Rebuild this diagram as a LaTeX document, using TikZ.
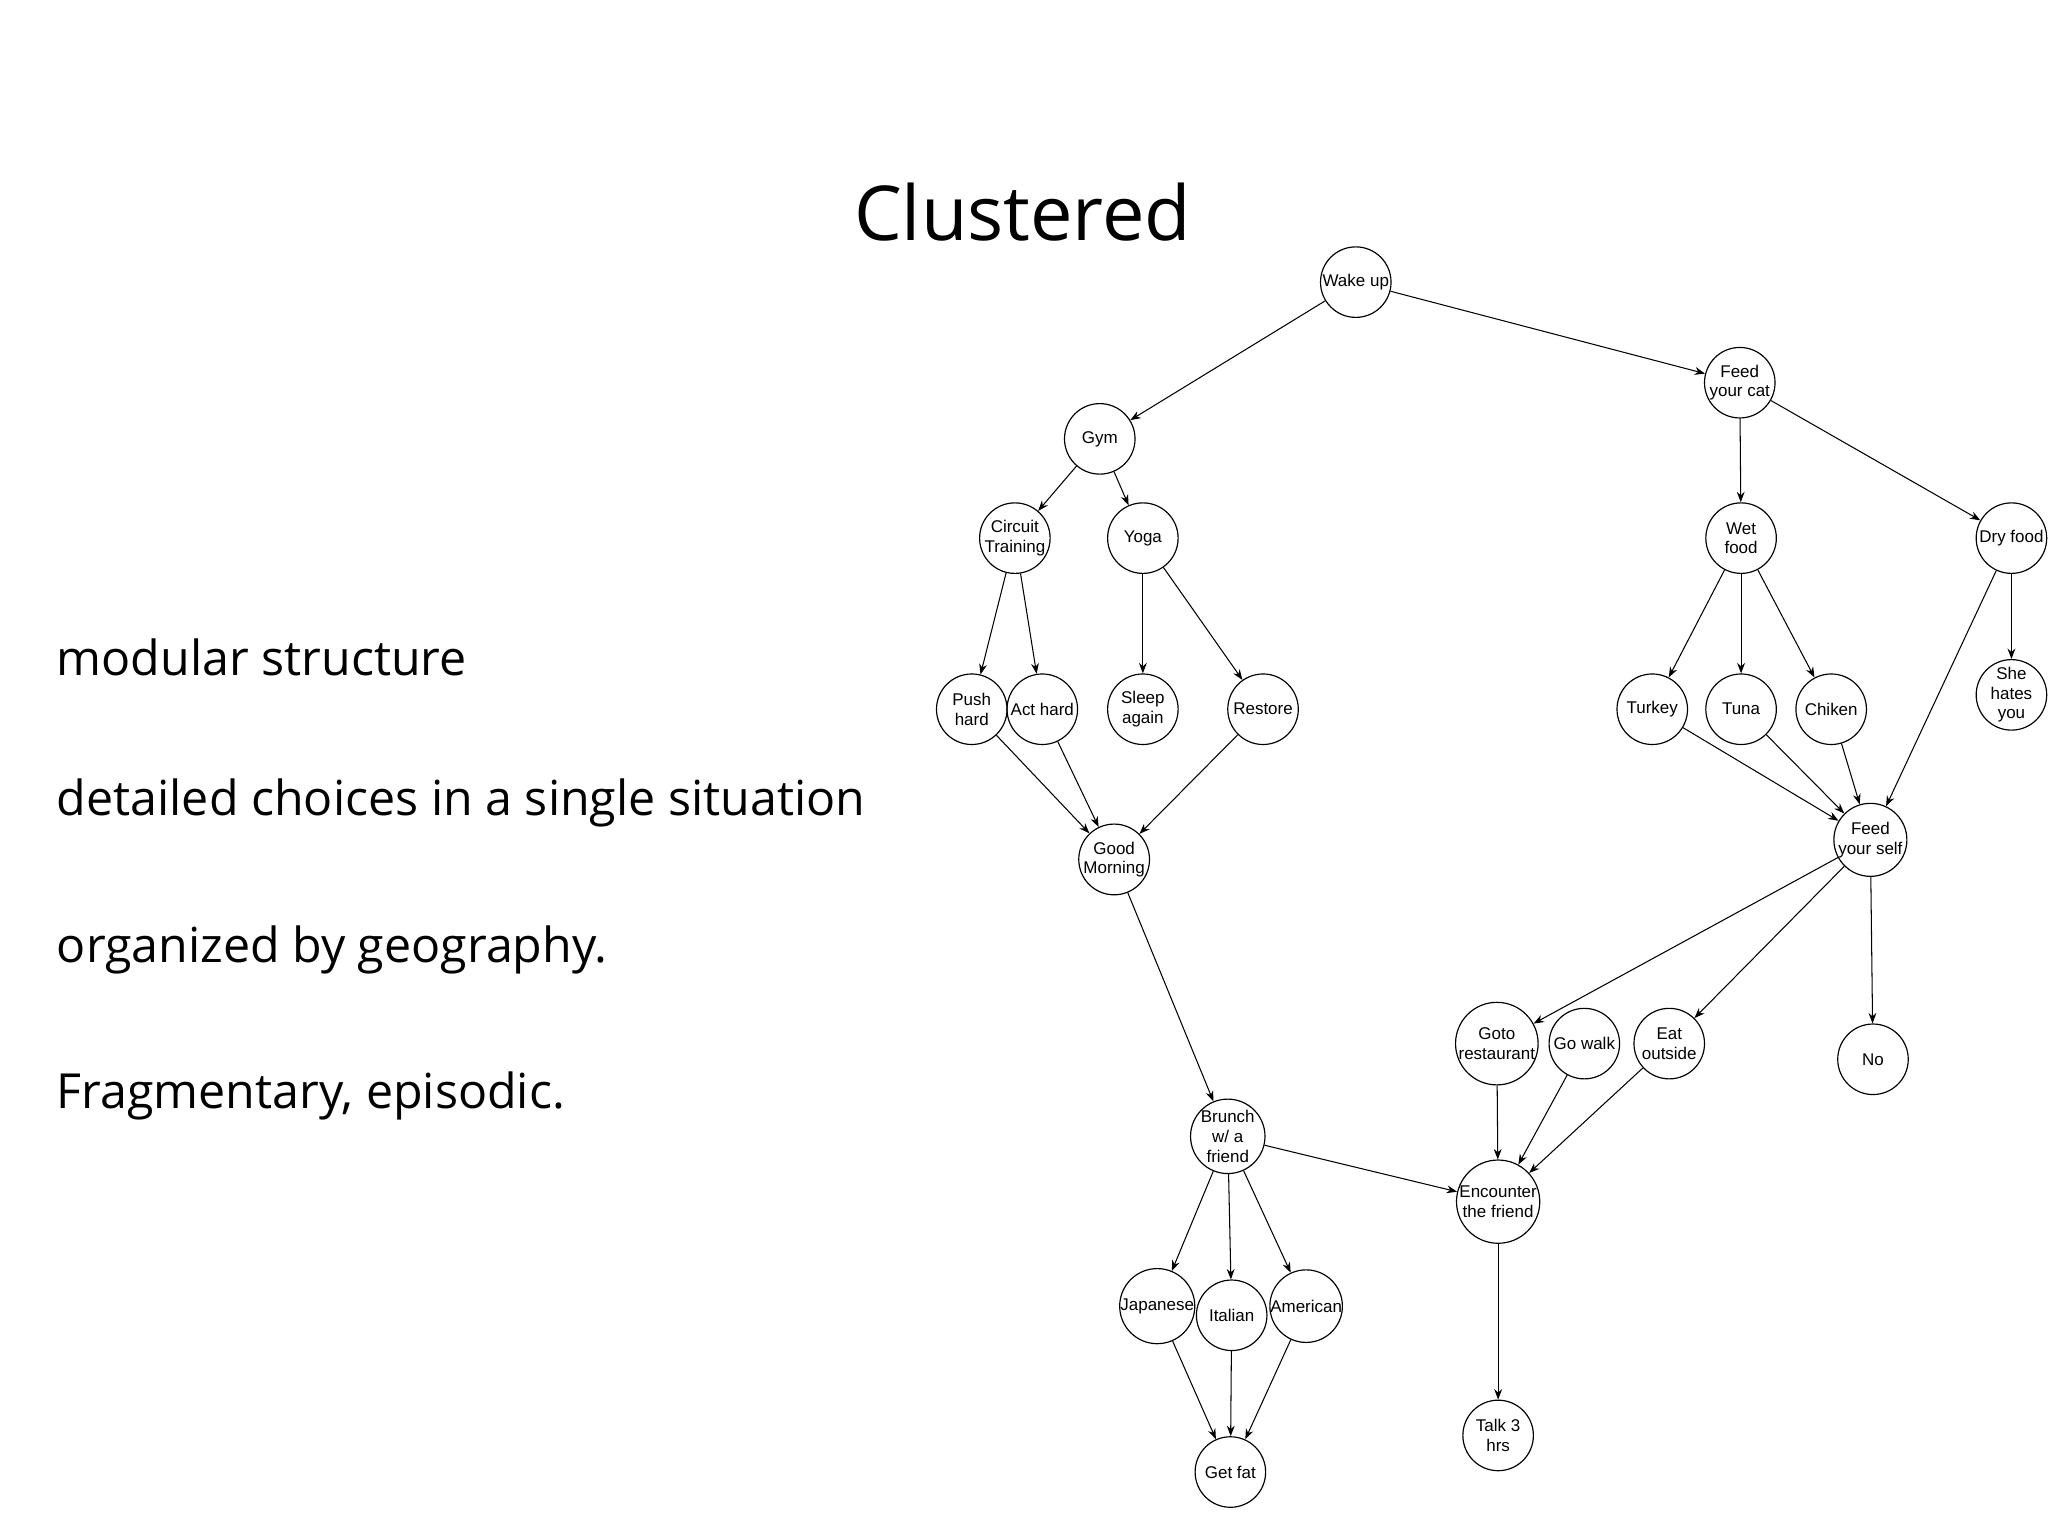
\documentclass[tikz,border=0pt]{standalone}
\usepackage{fontspec}
\setmainfont{Open Sans}
\newfontfamily\nodefont{Liberation Sans}
\usetikzlibrary{arrows.meta}
\begin{document}
\begin{tikzpicture}[x=1pt,y=-1pt,
  st/.style={circle,draw,line width=0.9pt,minimum size=54pt,inner sep=0pt,align=center,font=\nodefont\fontsize{13}{15}\selectfont},
  ar/.style={-{Stealth[length=8pt,width=6pt]},line width=0.8pt},
  side/.style={anchor=west,font=\fontsize{37}{40}\selectfont}]
\useasboundingbox (0,0) rectangle (1568,1176);
\node[font=\fontsize{58}{60}\selectfont] (title) at (783,162) {Clustered};
\node[side] (t1) at (40,503) {modular structure};
\node[side] (t2) at (40,615) {detailed choices in a single situation};
\node[side] (t3) at (40,727) {organized by geography.};
\node[side] (t4) at (40,839) {Fragmentary, episodic.};
\node[st] (wake) at (1038,216) {Wake up};
\node[st] (cat) at (1332,293) {Feed\\your cat};
\node[st] (gym) at (842,336) {Gym};
\node[st] (circ) at (777,412) {Circuit\\Training};
\node[st] (yoga) at (875,412) {Yoga};
\node[st] (wet) at (1333,412) {Wet\\food};
\node[st] (dry) at (1540,412) {Dry food};
\node[st] (push) at (744,543) {Push\\hard};
\node[st] (act) at (798,543) {Act hard};
\node[st] (sleep) at (875,543) {Sleep\\again};
\node[st] (rest) at (967,543) {Restore};
\node[st] (turk) at (1265,543) {Turkey};
\node[st] (tuna) at (1333,543) {Tuna};
\node[st] (chik) at (1402,543) {Chiken};
\node[st] (she) at (1540,532) {She\\hates\\you};
\node[st] (good) at (853,658) {Good\\Morning};
\node[st] (self) at (1432,643) {Feed\\your self};
\node[st] (goto) at (1146,799) {Goto\\restaurant};
\node[st] (walk) at (1213,799) {Go walk};
\node[st] (eat) at (1278,799) {Eat\\outside};
\node[st] (no) at (1434,811) {No};
\node[st] (brunch) at (940,870) {Brunch\\w/ a\\friend};
\node[st] (enc) at (1147,920) {Encounter\\the friend};
\node[st] (jap) at (886,1000) {Japanese};
\node[st] (ital) at (943,1007) {Italian};
\node[st] (amer) at (1000,1000) {American};
\node[st] (talk) at (1147,1099) {Talk 3\\hrs};
\node[st] (fat) at (942,1127) {Get fat};
\foreach \a/\b in {wake/cat,wake/gym,gym/circ,gym/yoga,circ/push,circ/act,yoga/sleep,yoga/rest,
 push/good,act/good,rest/good,good/brunch,cat/wet,cat/dry,wet/turk,wet/tuna,wet/chik,dry/she,
 turk/self,tuna/self,chik/self,dry/self,self/goto,self/eat,self/no,goto/enc,walk/enc,eat/enc,
 brunch/enc,enc/talk,brunch/jap,brunch/ital,brunch/amer,jap/fat,ital/fat,amer/fat}
 \draw[ar] (\a) -- (\b);
\end{tikzpicture}
\end{document}
